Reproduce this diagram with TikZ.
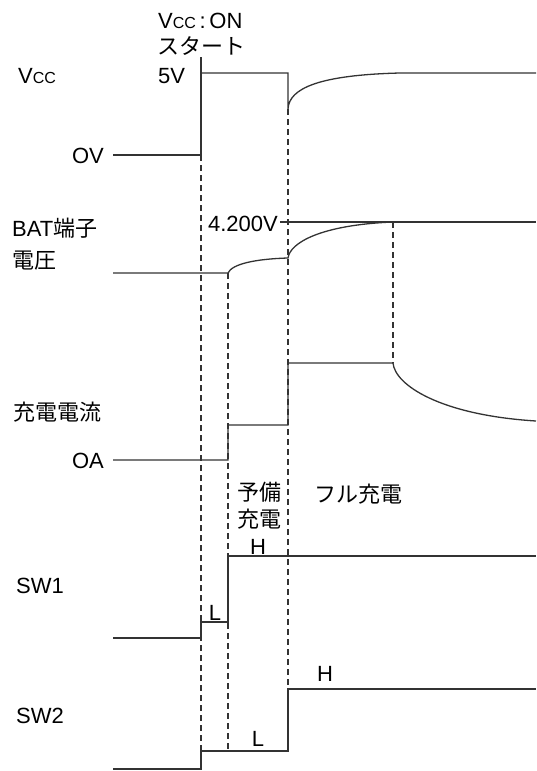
\documentclass[tikz,border=0pt]{standalone}
\usepackage{fontspec}
\setmainfont{Liberation Sans}
\newfontfamily\jp{Noto Sans CJK JP}
\begin{document}
\begin{tikzpicture}[x=1pt,y=-1pt,
  sig/.style={draw=black!80, line width=1.3pt},
  guide/.style={draw=black!80, line width=1.1pt, dash pattern=on 6pt off 4pt},
  lbl/.style={inner sep=0pt, font=\fontsize{22}{26}\selectfont},
  jlbl/.style={inner sep=0pt, font=\fontsize{22}{26}\selectfont\jp}]
\useasboundingbox (0,0) rectangle (536,771);

% guide lines
\draw[guide] (201,155) -- (201,751);
\draw[guide] (228,273) -- (228,751);
\draw[guide] (288,109) -- (288,689);
\draw[guide] (393,222) -- (393,363);

% Vcc
\draw[sig] (113,155) -- (201,155);
\draw[sig] (201,57) -- (201,155);
\draw[sig] (201,73) -- (288,73) -- (288,109)
  .. controls (289,88) and (320,75) .. (400,73) -- (536,73);

% BAT voltage
\draw[sig] (280,222) -- (536,222);
\draw[sig] (113,273) -- (228,273)
  .. controls (232,264) and (255,259) .. (288,258)
  .. controls (290,243) and (320,225) .. (393,222);

% charge current
\draw[sig] (113,460) -- (228,460) -- (228,425) -- (288,425) -- (288,363) -- (393,363)
  .. controls (395,385) and (440,415) .. (536,421);

% SW1
\draw[sig] (113,638) -- (201,638) -- (201,622) -- (228,622) -- (228,556) -- (536,556);
% SW2
\draw[sig] (113,769) -- (201,769) -- (201,751) -- (288,751) -- (288,689) -- (536,689);

% labels
\node[lbl, anchor=base west] (vcc) at (18,83) {V{\fontsize{16}{18}\selectfont CC}};
\node[lbl, anchor=base west] (vcctop) at (158,28) {V{\fontsize{16}{18}\selectfont CC}\,:\,ON};
\node[jlbl, anchor=west] (start) at (157,46) {スタート};
\node[lbl, anchor=base west] (fivev) at (158,83) {5V};
\node[lbl, anchor=base east] (ov) at (104,163) {OV};
\node[lbl, anchor=west] (bat) at (12,228) {BAT{\jp 端子}};
\node[jlbl, anchor=west] (batv) at (12,261) {電圧};
\node[lbl, anchor=base east] (v42) at (278,231) {4.200V};
\node[jlbl, anchor=west] (cur) at (13,412) {充電電流};
\node[lbl, anchor=base east] (oa) at (104,468) {OA};
\node[jlbl] (pre1) at (259,492) {予備};
\node[jlbl] (pre2) at (259,519) {充電};
\node[jlbl, anchor=west] (full) at (314,494) {フル充電};
\node[lbl, anchor=base west] (sw1) at (16,593) {SW1};
\node[lbl, anchor=base west] (sw2) at (16,723) {SW2};
\node[lbl, anchor=base] (l1) at (215,620) {L};
\node[lbl, anchor=base] (h1) at (258,554) {H};
\node[lbl, anchor=base] (l2) at (258,746) {L};
\node[lbl, anchor=base] (h2) at (325,681) {H};
\end{tikzpicture}
\end{document}
